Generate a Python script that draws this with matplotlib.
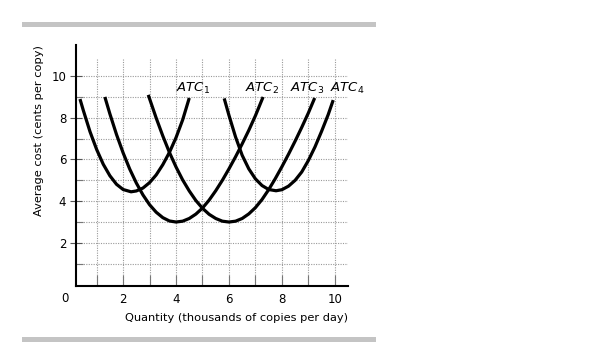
import matplotlib.pyplot as plt
from matplotlib.patches import Rectangle

# Curvas de custo médio (leitura aproximada do gráfico)
atc1_q = [0.37, 0.5, 0.75, 1.0, 1.25, 1.5, 1.75, 2.0, 2.3, 2.5, 2.75, 3.0, 3.25, 3.5, 3.75, 4.0, 4.25, 4.5]
atc1_custo = [8.9, 8.34, 7.33, 6.48, 5.77, 5.22, 4.81, 4.56, 4.45, 4.49, 4.63, 4.89, 5.26, 5.75, 6.34, 7.05, 7.9, 8.95]

atc2_q = [1.31, 1.5, 1.75, 2.0, 2.25, 2.5, 2.75, 3.0, 3.25, 3.5, 3.75, 4.0,
          4.25, 4.5, 4.75, 5.0, 5.25, 5.5, 5.75, 6.0, 6.25, 6.5, 6.75, 7.0, 7.29]
atc2_custo = [9.0, 8.19, 7.2, 6.32, 5.54, 4.87, 4.3, 3.83, 3.47, 3.21, 3.05, 3.0,
              3.04, 3.17, 3.38, 3.67, 4.05, 4.5, 5.0, 5.55, 6.13, 6.75, 7.4, 8.1, 9.0]

atc3_q = [2.95, 3.25, 3.5, 3.75, 4.0, 4.25, 4.5, 4.75, 5.0, 5.25, 5.5, 5.75, 6.0,
          6.25, 6.5, 6.75, 7.0, 7.25, 7.5, 7.75, 8.0, 8.25, 8.5, 8.75, 9.0, 9.24]
atc3_custo = [9.1, 7.99, 7.13, 6.34, 5.64, 5.02, 4.49, 4.03, 3.66, 3.37, 3.17, 3.04, 3.0,
              3.04, 3.17, 3.39, 3.69, 4.08, 4.55, 5.08, 5.65, 6.25, 6.88, 7.54, 8.23, 8.95]

atc4_q = [5.82, 6.0, 6.25, 6.5, 6.75, 7.0, 7.25, 7.5, 7.78, 8.0, 8.25, 8.5, 8.75, 9.0, 9.25, 9.5, 9.75, 9.94]
atc4_custo = [8.93, 8.12, 7.08, 6.2, 5.55, 5.07, 4.75, 4.56, 4.5, 4.55, 4.72, 5.0, 5.4, 5.95, 6.6, 7.35, 8.15, 8.85]

rotulos = [r'$\mathit{ATC}_1$', r'$\mathit{ATC}_2$', r'$\mathit{ATC}_3$', r'$\mathit{ATC}_4$']
rotulos_x = [4.0, 6.6, 8.3, 9.81]
rotulos_y = [9.26, 9.26, 9.26, 9.26]

ticks_x = [2, 4, 6, 8, 10]
ticks_y = [2, 4, 6, 8, 10]


def definir_rotulos(ax, eixo_x, eixo_y):
    ax.set_xlabel(eixo_x, fontsize=8.2, loc='right', labelpad=5)
    ax.set_ylabel(eixo_y, fontsize=8.2, loc='top', labelpad=5)
    return None


fig = plt.figure(figsize=(6.15, 3.45), dpi=100)
ax = fig.add_axes([0.1236, 0.171, 0.4423, 0.699])

# Grade pontilhada
cinza = '#9a9a9a'
ax.vlines(range(1, 11), 0, 10.8, colors=cinza, linestyles=(0, (1, 1.2)), linewidth=0.8, zorder=1)
ax.hlines(range(1, 11), 0.22, 10.5, colors=cinza, linestyles=(0, (1, 1.2)), linewidth=0.8, zorder=1)

# Curvas
for q, c in [(atc1_q, atc1_custo), (atc2_q, atc2_custo), (atc3_q, atc3_custo), (atc4_q, atc4_custo)]:
    ax.plot(q, c, color='black', linewidth=2.3, solid_joinstyle='round',
            solid_capstyle='butt', zorder=3)

for txt, x, y in zip(rotulos, rotulos_x, rotulos_y):
    ax.text(x, y, txt, fontsize=9.5, ha='left', va='baseline', zorder=4)

ax.set_xlim(0.22, 10.5)
ax.set_ylim(-0.07, 11.5)
ax.spines['top'].set_visible(False)
ax.spines['right'].set_visible(False)
ax.spines['left'].set_linewidth(1.5)
ax.spines['bottom'].set_linewidth(1.5)

ax.set_xticks(ticks_x)
ax.set_xticks(range(1, 11), minor=True)
ax.set_yticks(ticks_y)
ax.set_yticks(range(1, 11), minor=True)
ax.tick_params(axis='x', which='both', direction='in', length=8, width=0.8,
               color='#777777', labelsize=8.5, pad=5)
ax.tick_params(axis='y', which='major', direction='inout', length=8, width=0.8,
               color='#555555', labelsize=8.5, pad=3)
ax.tick_params(axis='y', which='minor', direction='in', length=5, width=0.8, color='#777777')
ax.text(-0.18, -0.69, '0', fontsize=8.5, ha='center', va='center', clip_on=False)

definir_rotulos(ax, 'Quantity (thousands of copies per day)', 'Average cost (cents per copy)')

# Barras cinza de cima e de baixo
fig.add_artist(Rectangle((0.0358, 0.9226), 0.575, 0.0145, transform=fig.transFigure,
                         color='#c4c4c4', linewidth=0))
fig.add_artist(Rectangle((0.0358, 0.0087), 0.575, 0.0145, transform=fig.transFigure,
                         color='#c4c4c4', linewidth=0))

fig.savefig('out.png', dpi=100, facecolor='white')
